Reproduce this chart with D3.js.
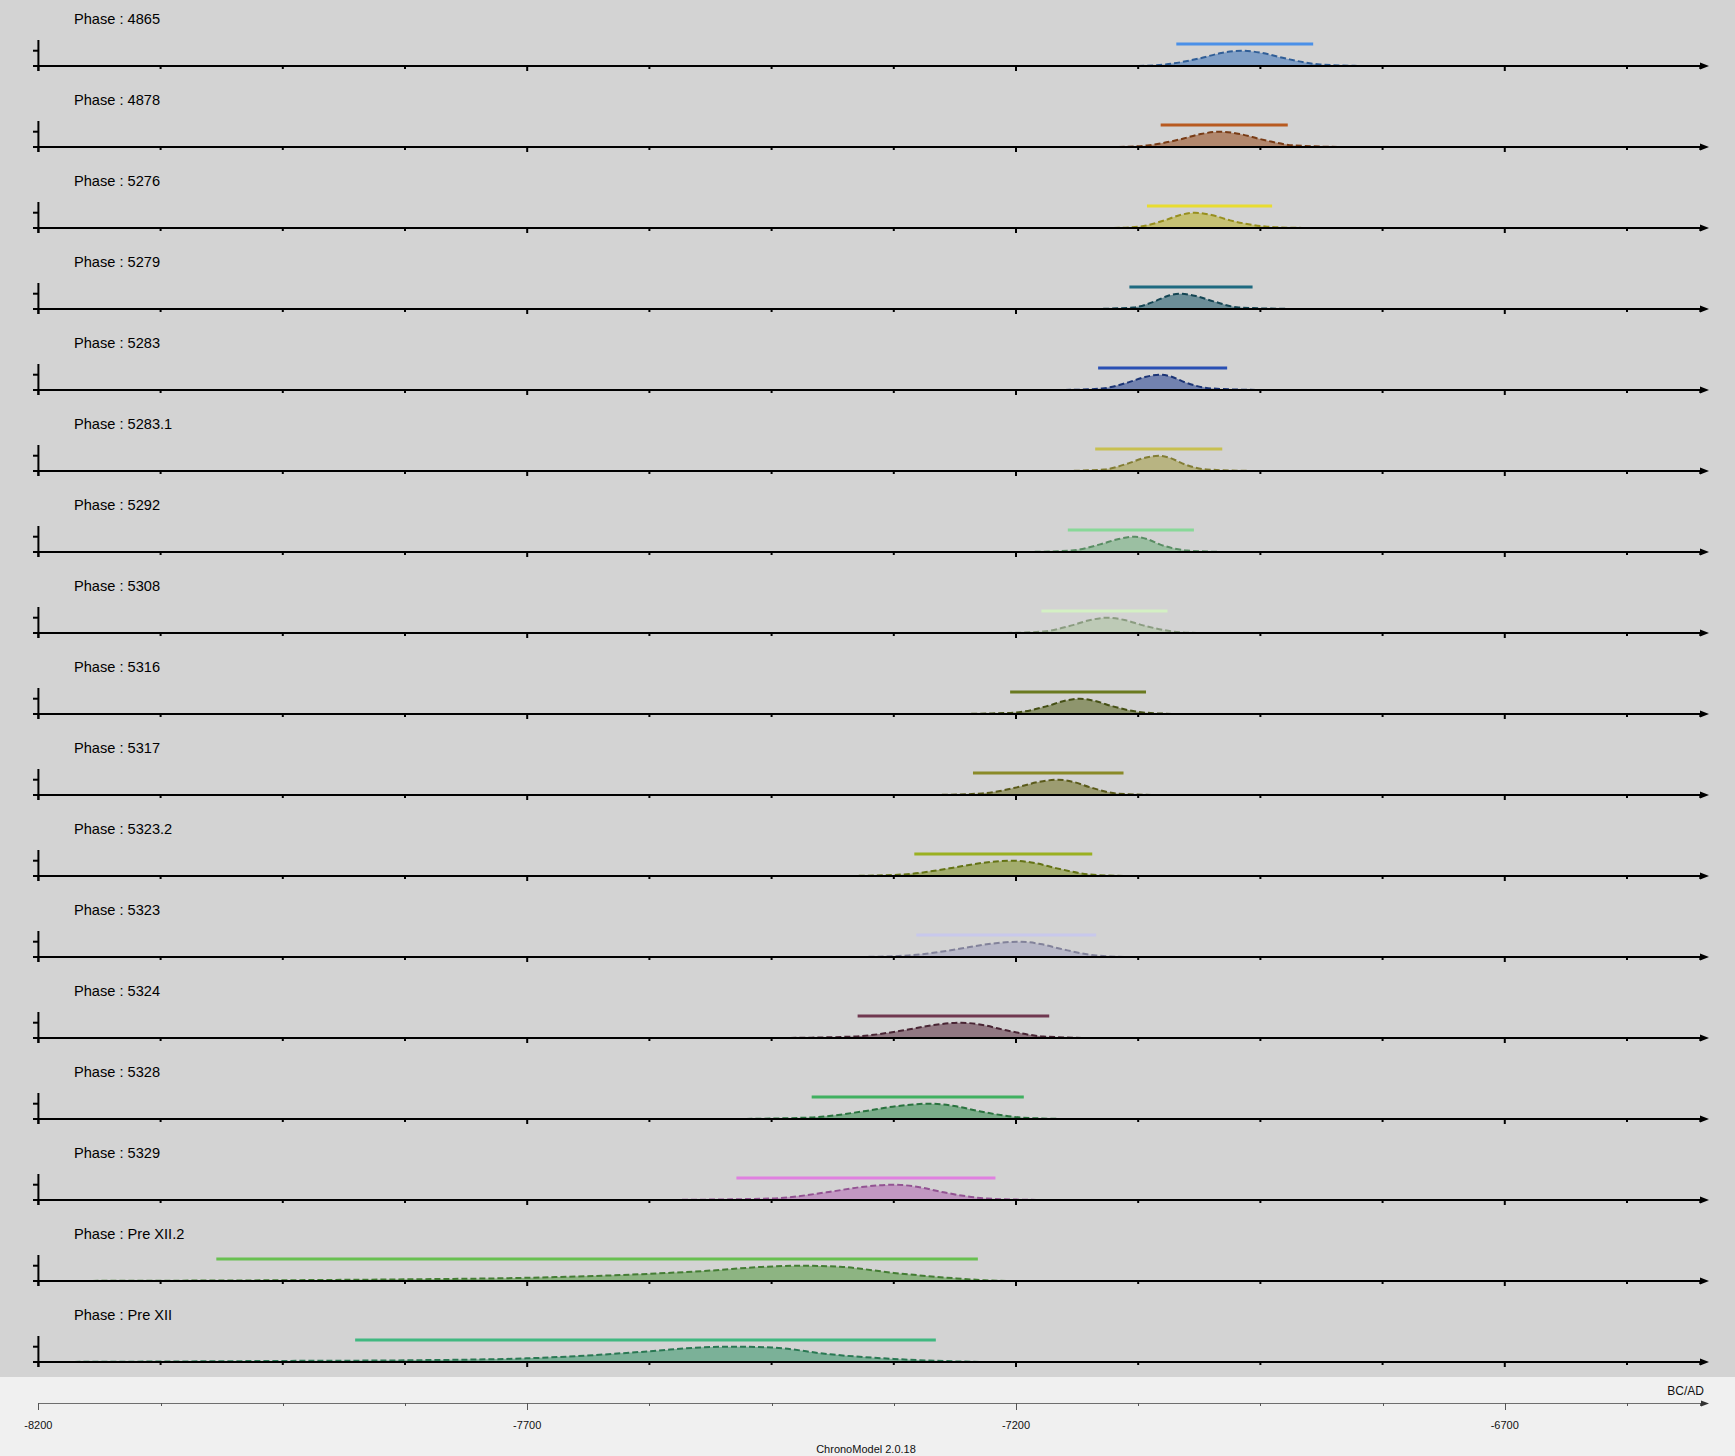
<!DOCTYPE html>
<html>
<head>
<meta charset="utf-8">
<script src="https://cdn.jsdelivr.net/npm/d3@7"></script>
<style>
  body { margin: 0; background: #f0f0f0; }
  svg { display: block; font-family: 'Liberation Sans', Arial, sans-serif; }
</style>
</head>
<body>
<div id="chart"></div>
<script>
// Phase names, top to bottom
const phases = ['4865', '4878', '5276', '5279', '5283', '5283.1', '5292', '5308', '5316',
    '5317', '5323.2', '5323', '5324', '5328', '5329', 'Pre XII.2', 'Pre XII'];

// HPD interval bounds (BC/AD years)
const hpdStart = [-7036, -7052, -7066, -7084, -7116, -7119, -7147, -7174, -7206,
    -7244, -7304, -7302, -7362, -7409, -7486, -8018, -7876];
const hpdEnd = [-6896, -6922, -6938, -6958, -6984, -6989, -7018, -7045, -7067,
    -7090, -7122, -7118, -7166, -7192, -7221, -7239, -7282];

// Phase colours
const phaseColors = ['#4a90e8', '#b85a20', '#e8dc30', '#1e6a80', '#2a50b4', '#c8c050',
    '#88d898', '#d4f0c4', '#6a7a20', '#8a8a28', '#9ab020', '#c8c8ec', '#703850',
    '#40b060', '#e080e0', '#68c050', '#40b880'];

// Density curves, [year, relative density] (each curve scaled to its own max)
const densities = [
    [[-7075, 0], [-7047, 0.1], [-7012, 0.5], [-6990, 0.85], [-6969, 1], [-6948, 0.85], [-6925, 0.5], [-6889, 0.1], [-6845, 0]],
    [[-7095, 0], [-7066, 0.1], [-7032, 0.5], [-7011, 0.85], [-6991, 1], [-6971, 0.85], [-6949, 0.5], [-6915, 0.1], [-6865, 0]],
    [[-7100, 0], [-7073, 0.1], [-7048, 0.5], [-7032, 0.85], [-7017, 1], [-7000, 0.85], [-6981, 0.5], [-6945, 0.1], [-6920, 0.02], [-6895, 0]],
    [[-7120, 0], [-7080, 0.1], [-7058, 0.5], [-7045, 0.85], [-7032, 1], [-7016, 0.85], [-6998, 0.5], [-6972, 0.1], [-6915, 0]],
    [[-7150, 0], [-7112, 0.1], [-7085, 0.5], [-7068, 0.85], [-7052, 1], [-7040, 0.85], [-7027, 0.5], [-7000, 0.1], [-6950, 0]],
    [[-7150, 0], [-7110, 0.1], [-7085, 0.5], [-7069, 0.85], [-7054, 1], [-7042, 0.85], [-7030, 0.5], [-7005, 0.1], [-6955, 0]],
    [[-7190, 0], [-7143, 0.1], [-7114, 0.5], [-7095, 0.85], [-7078, 1], [-7066, 0.85], [-7053, 0.5], [-7025, 0.1], [-6985, 0]],
    [[-7210, 0], [-7172, 0.1], [-7143, 0.5], [-7124, 0.85], [-7107, 1], [-7089, 0.85], [-7070, 0.5], [-7040, 0.1], [-7015, 0]],
    [[-7255, 0], [-7230, 0.03], [-7200, 0.1], [-7169, 0.5], [-7151, 0.85], [-7135, 1], [-7119, 0.85], [-7101, 0.5], [-7070, 0.1], [-7035, 0]],
    [[-7285, 0], [-7235, 0.1], [-7199, 0.5], [-7177, 0.85], [-7157, 1], [-7141, 0.85], [-7124, 0.5], [-7097, 0.1], [-7060, 0]],
    [[-7370, 0], [-7315, 0.1], [-7268, 0.5], [-7235, 0.85], [-7203, 1], [-7181, 0.85], [-7158, 0.5], [-7125, 0.1], [-7090, 0]],
    [[-7360, 0], [-7310, 0.1], [-7261, 0.5], [-7228, 0.85], [-7196, 1], [-7175, 0.85], [-7152, 0.5], [-7118, 0.1], [-7085, 0]],
    [[-7440, 0], [-7365, 0.1], [-7315, 0.5], [-7284, 0.85], [-7256, 1], [-7234, 0.85], [-7210, 0.5], [-7172, 0.1], [-7125, 0]],
    [[-7485, 0], [-7410, 0.1], [-7356, 0.5], [-7321, 0.85], [-7288, 1], [-7263, 0.85], [-7237, 0.5], [-7195, 0.1], [-7150, 0]],
    [[-7560, 0], [-7450, 0.1], [-7394, 0.5], [-7358, 0.85], [-7324, 1], [-7300, 0.85], [-7274, 0.5], [-7230, 0.1], [-7175, 0]],
    [[-8200, 0], [-8075, 0.02], [-7950, 0.05], [-7825, 0.11], [-7700, 0.21], [-7575, 0.47], [-7513, 0.68], [-7460, 0.92], [-7421, 1], [-7380, 0.93], [-7325, 0.53], [-7265, 0.19], [-7232, 0.05], [-7205, 0]],
    [[-8200, 0], [-8075, 0.03], [-7950, 0.07], [-7825, 0.11], [-7700, 0.24], [-7640, 0.42], [-7575, 0.7], [-7520, 0.96], [-7486, 1], [-7450, 0.95], [-7390, 0.5], [-7325, 0.2], [-7282, 0.08], [-7235, 0]]
];

// Axis ticks
const yearMin = -8200, yearMax = -6500;
const tickYears = d3.range(yearMin, yearMax, 125).concat([yearMax]);
const labelYears = [-8200, -7700, -7200, -6700];

const width = 1735, height = 1456;
const rowH = 81, axisOff = 66, panelH = rowH * phases.length;

const svg = d3.select('#chart').append('svg')
    .attr('width', width)
    .attr('height', height);

svg.append('rect')
    .attr('width', width).attr('height', panelH)
    .attr('fill', '#d3d3d3');

const x = d3.scaleLinear().domain([yearMin, yearMax]).range([38.4, 1700.3]);
const y = d3.scaleLinear().domain([0, 1.7]).range([0, -26]);

const area = d3.area()
    .x(d => x(d[0]))
    .y0(0)
    .y1(d => y(d[1]))
    .curve(d3.curveMonotoneX);
const line = d3.line()
    .x(d => x(d[0]))
    .y(d => y(d[1]))
    .curve(d3.curveMonotoneX);

const bg = d3.rgb('#d3d3d3');

phases.forEach((name, i) => {
    const g = svg.append('g')
        .attr('transform', `translate(0,${i * rowH + axisOff})`);
    const base = d3.rgb(phaseColors[i]);
    const fill = d3.interpolateRgb(base.darker(0.6), bg)(0.45);
    const stroke = base.darker(1.2);

    g.append('text')
        .attr('x', 74)
        .attr('y', 24 - axisOff)
        .attr('font-size', 14.6)
        .attr('fill', '#000')
        .text(`Phase : ${name}`);

    // HPD bar
    g.append('line')
        .attr('x1', x(hpdStart[i])).attr('x2', x(hpdEnd[i]))
        .attr('y1', -22).attr('y2', -22)
        .attr('stroke', phaseColors[i])
        .attr('stroke-width', 3);

    // density
    g.append('path')
        .datum(densities[i])
        .attr('d', area)
        .attr('fill', fill);
    g.append('path')
        .datum(densities[i])
        .attr('d', line)
        .attr('fill', 'none')
        .attr('stroke', stroke)
        .attr('stroke-width', 2)
        .attr('stroke-dasharray', '6,3');

    // x axis
    g.append('line')
        .attr('x1', 33).attr('x2', 1703)
        .attr('y1', 0).attr('y2', 0)
        .attr('stroke', '#000').attr('stroke-width', 2);
    g.selectAll('.tk')
        .data(tickYears)
        .join('line')
        .attr('class', 'tk')
        .attr('x1', d => x(d)).attr('x2', d => x(d))
        .attr('y1', 0)
        .attr('y2', d => labelYears.includes(d) ? 5 : 3)
        .attr('stroke', '#000').attr('stroke-width', 2);
    g.append('path')
        .attr('d', 'M1700,-3.5L1709,0L1700,3.5Z')
        .attr('fill', '#000');

    // y axis
    g.append('line')
        .attr('x1', x(yearMin)).attr('x2', x(yearMin))
        .attr('y1', y(1.7)).attr('y2', 5)
        .attr('stroke', '#000').attr('stroke-width', 2);
    g.append('line')
        .attr('x1', 33).attr('x2', x(yearMin))
        .attr('y1', y(1)).attr('y2', y(1))
        .attr('stroke', '#000').attr('stroke-width', 2);
});

// bottom axis
const axisY = 1403;
const bottom = svg.append('g').attr('transform', `translate(0,${axisY})`);
bottom.append('line')
    .attr('x1', x(yearMin)).attr('x2', 1703)
    .attr('y1', 0.5).attr('y2', 0.5)
    .attr('stroke', '#6e6e6e').attr('stroke-width', 1);
bottom.selectAll('.btk')
    .data(tickYears)
    .join('line')
    .attr('class', 'btk')
    .attr('x1', d => Math.round(x(d)) + 0.5).attr('x2', d => Math.round(x(d)) + 0.5)
    .attr('y1', 0)
    .attr('y2', d => labelYears.includes(d) ? 7 : 3)
    .attr('stroke', '#555').attr('stroke-width', 1);
bottom.append('path')
    .attr('d', 'M1701,-2.5L1709,0.5L1701,3.5Z')
    .attr('fill', '#333');
bottom.selectAll('.blab')
    .data(labelYears)
    .join('text')
    .attr('class', 'blab')
    .attr('x', d => x(d))
    .attr('y', 26)
    .attr('text-anchor', 'middle')
    .attr('font-size', 11)
    .attr('fill', '#111')
    .text(d => d);

svg.append('text')
    .attr('x', 1704).attr('y', 1395)
    .attr('text-anchor', 'end')
    .attr('font-size', 12)
    .attr('fill', '#111')
    .text('BC/AD');

svg.append('text')
    .attr('x', 866).attr('y', 1453)
    .attr('text-anchor', 'middle')
    .attr('font-size', 11)
    .attr('fill', '#111')
    .text('ChronoModel 2.0.18');
</script>
</body>
</html>
